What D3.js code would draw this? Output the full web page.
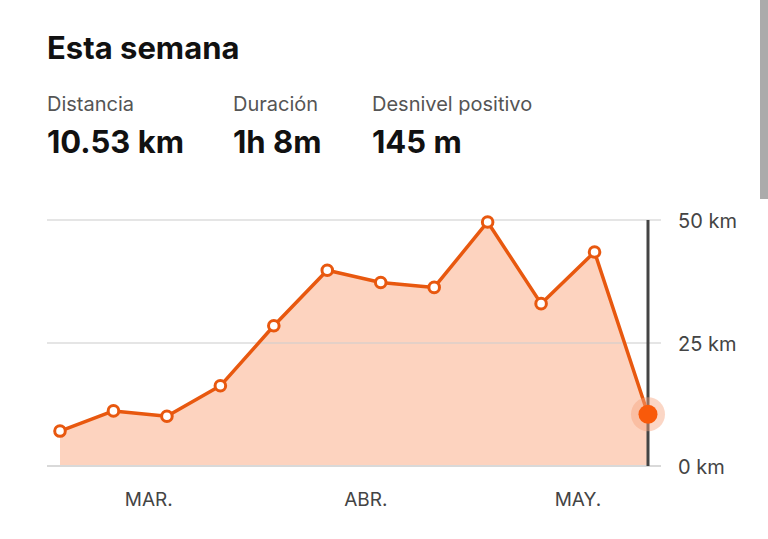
<!DOCTYPE html>
<html>
<head>
<meta charset="utf-8">
<script src="https://cdn.jsdelivr.net/npm/d3@7"></script>
<style>
  html, body { margin: 0; padding: 0; background: #fff; overflow: hidden; }
  svg { display: block; font-family: Inter, "Noto Sans", sans-serif; }
</style>
</head>
<body>
<svg id="chart" width="768" height="539"></svg>
<script>
// ---- data ----
const title = "Esta semana";
const statLabels = ["Distancia", "Duración", "Desnivel positivo"];
const statValues = ["10.53 km", "1h 8m", "145 m"];
const weeks = [0,1,2,3,4,5,6,7,8,9,10,11];
const distanceKm = [7.1, 11.2, 10.1, 16.3, 28.5, 39.8, 37.3, 36.3, 49.6, 33.0, 43.5, 10.53];
const yTicks = [0, 25, 50];
const yTickLabels = ["0 km", "25 km", "50 km"];
const monthLabels = ["MAR.", "ABR.", "MAY."];
const monthPositions = [1.66, 5.72, 9.69]; // in week-index units

// ---- layout ----
const svg = d3.select("#chart");
const plot = { left: 47, right: 661, top: 220, bottom: 466 };

const x = d3.scaleLinear().domain([0, 11]).range([60, 648]);
const y = d3.scaleLinear().domain([0, 50]).range([plot.bottom, plot.top]);

const orange = "#e8580f";
const fillCol = "#fdd3bf";

// scrollbar
svg.append("rect").attr("x", 760).attr("y", 0).attr("width", 8).attr("height", 199).attr("fill", "#ababab");

// header
svg.append("text").attr("x", 47).attr("y", 59).text(title)
  .attr("font-size", 31).attr("font-weight", 700).attr("fill", "#111");

const statX = [47, 233, 372];
statLabels.forEach((t, i) => {
  svg.append("text").attr("x", statX[i]).attr("y", 111).text(t)
    .attr("font-size", 20).attr("fill", "#555");
  svg.append("text").attr("x", statX[i]).attr("y", 153).text(statValues[i])
    .attr("font-size", 31).attr("font-weight", 700).attr("fill", "#111");
});

// area
const area = d3.area().x((d, i) => x(weeks[i])).y0(y(0)).y1(d => y(d));
svg.append("path").datum(distanceKm).attr("d", area).attr("fill", fillCol);

// gridlines
svg.append("g").selectAll("line").data(yTicks).join("line")
  .attr("x1", plot.left).attr("x2", plot.right)
  .attr("y1", d => y(d)).attr("y2", d => y(d))
  .attr("stroke", d => d === 0 ? "#d9d9d9" : "#cfcfcf")
  .attr("stroke-opacity", d => d === 0 ? 1 : 0.7)
  .attr("stroke-width", d => d === 0 ? 2 : 1.5);

// y axis labels
const yAxis = d3.axisRight(y).tickValues(yTicks)
  .tickFormat((d, i) => yTickLabels[i]).tickSize(0).tickPadding(0);
const gy = svg.append("g").attr("transform", `translate(678,0)`).call(yAxis);
gy.select(".domain").remove();
gy.selectAll("text").attr("font-size", 20).attr("fill", "#444")
  .attr("font-family", "Inter, 'Noto Sans', sans-serif").attr("dy", "0.35em");

// month labels
const gx = svg.append("g").attr("transform", `translate(0,${506})`);
gx.selectAll("text").data(monthLabels).join("text")
  .attr("x", (d, i) => x(monthPositions[i])).attr("y", 0)
  .attr("text-anchor", "middle").attr("font-size", 19).attr("fill", "#444")
  .text(d => d);

// vertical current-week line
const last = weeks.length - 1;
svg.append("line").attr("x1", x(weeks[last])).attr("x2", x(weeks[last]))
  .attr("y1", y(50)).attr("y2", y(0))
  .attr("stroke", "#444").attr("stroke-width", 3);

// line
const line = d3.line().x((d, i) => x(weeks[i])).y(d => y(d));
svg.append("path").datum(distanceKm).attr("d", line)
  .attr("fill", "none").attr("stroke", orange).attr("stroke-width", 3.5)
  .attr("stroke-linejoin", "round");

// points
svg.append("g").selectAll("circle").data(distanceKm.slice(0, last)).join("circle")
  .attr("cx", (d, i) => x(weeks[i])).attr("cy", d => y(d)).attr("r", 5.3)
  .attr("fill", "#fff").attr("stroke", orange).attr("stroke-width", 3);

// highlighted last point
svg.append("circle").attr("cx", x(weeks[last])).attr("cy", y(distanceKm[last]))
  .attr("r", 17).attr("fill", "#f6a57f").attr("fill-opacity", 0.45);
svg.append("circle").attr("cx", x(weeks[last])).attr("cy", y(distanceKm[last]))
  .attr("r", 9.5).attr("fill", "#f95a0a");
</script>
</body>
</html>
